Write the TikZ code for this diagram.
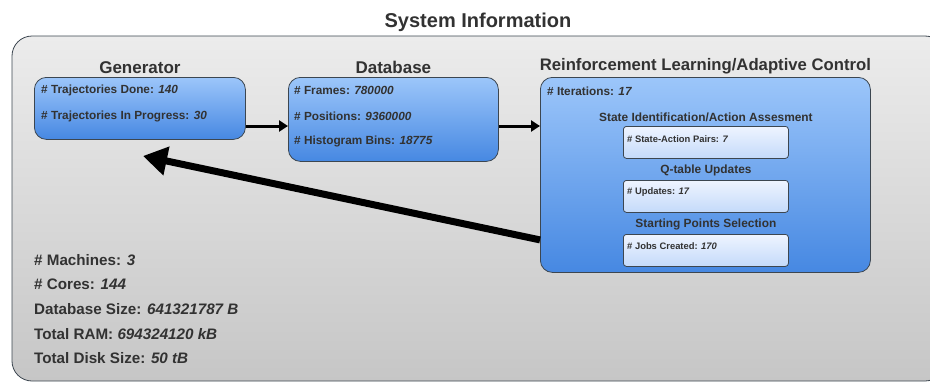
\documentclass[tikz,border=0pt]{standalone}
\usepackage{fontspec}
\setmainfont{Liberation Sans}
\usetikzlibrary{positioning}
\usetikzlibrary{arrows.meta}

\definecolor{txtgray}{RGB}{50,50,50}
\definecolor{edgegray}{RGB}{60,70,80}
\definecolor{bluetop}{RGB}{156,198,250}
\definecolor{bluebot}{RGB}{70,136,226}
\definecolor{subtop}{RGB}{238,244,255}
\definecolor{subbot}{RGB}{196,218,250}
\definecolor{bgtop}{RGB}{236,236,236}
\definecolor{bgbot}{RGB}{198,198,198}

\newcommand{\val}[1]{\textit{#1}}

\begin{document}
\begin{tikzpicture}[
        x = 1pt, y = -1pt,
        panel/.style = {
            draw = edgegray,
            line width = 0.8pt,
            rounded corners = 12pt,
            top color = bluetop,
            bottom color = bluebot,
            anchor = north west,
            inner sep = 0pt
        },
        subpanel/.style = {
            draw = edgegray,
            line width = 0.8pt,
            rounded corners = 3pt,
            top color = subtop,
            bottom color = subbot,
            anchor = north west,
            minimum width = 165pt,
            minimum height = 32pt,
            inner sep = 0pt
        },
        heading/.style = {
            font = \fontsize{#1}{19}\selectfont\bfseries,
            text = txtgray,
            inner sep = 0pt
        },
        heading/.default = 17,
        subheading/.style = {
            font = \fontsize{11.9}{14}\selectfont\bfseries,
            text = txtgray,
            inner sep = 0pt
        },
        info/.style = {
            font = \fontsize{#1}{14}\selectfont\bfseries,
            text = txtgray,
            anchor = west,
            inner sep = 0pt
        },
        info/.default = 11.8,
        flow/.style = {
            -{Triangle[length=9pt, width=11pt]},
            line width = 3pt
        }
        ]
%
        \useasboundingbox (0,0) rectangle (930,383);
        \draw[draw=edgegray, line width=0.8pt, rounded corners=20pt,
              top color=bgtop, bottom color=bgbot] (12,36) rectangle (945,381);
        \node[font=\fontsize{20}{22}\selectfont\bfseries, text=txtgray] (title) at (478,22) {System Information};
%
        \node[panel, minimum width=211pt, minimum height=62pt] (gen) at (34,77) {};
        \node[panel, minimum width=210pt, minimum height=84pt] (db) at (288,77) {};
        \node[panel, minimum width=330pt, minimum height=195pt] (rl) at (540,77) {};
%
        \node[heading, above=3pt of gen] (genhead) {Generator};
        \node[heading, above=3pt of db] (dbhead) {Database};
        \node[heading=16.7, above=3pt of rl] (rlhead) {Reinforcement Learning/Adaptive Control};
%
        \node[info] (done) at (41,90) {\# Trajectories Done: \val{140}};
        \node[info] (progress) at (41,116) {\# Trajectories In Progress: \val{30}};
%
        \node[info] (frames) at (294,90) {\# Frames: \val{780000}};
        \node[info] (positions) at (294,116) {\# Positions: \val{9360000}};
        \node[info] (bins) at (294,141) {\# Histogram Bins: \val{18775}};
%
        \node[info] (iter) at (547,91) {\# Iterations: \val{17}};
%
        \node[subpanel] (state) at (623,126) {};
        \node[subpanel] (qtable) at (623,180) {};
        \node[subpanel] (start) at (623,234) {};
%
        \node[subheading, above=4pt of state] (statehead) {State Identification/Action Assesment};
        \node[subheading, above=4pt of qtable] (qhead) {Q-table Updates};
        \node[subheading, above=4pt of start] (starthead) {Starting Points Selection};
%
        \node[info=9.4] (pairs) at (627,139) {\# State-Action Pairs: \val{7}};
        \node[info=9.4] (updates) at (627,192) {\# Updates: \val{17}};
        \node[info=9.4] (jobs) at (627,246) {\# Jobs Created: \val{170}};
%
        \node[info=15.2] (machines) at (34,260) {\# Machines: \val{3}};
        \node[info=15.2] (cores) at (34,284) {\# Cores: \val{144}};
        \node[info=15.2] (dbsize) at (34,309) {Database Size: \val{641321787 B}};
        \node[info=15.2] (ram) at (34,334) {Total RAM: \val{694324120 kB}};
        \node[info=15.2] (disk) at (34,358) {Total Disk Size: \val{50 tB}};
%
        \coordinate (row) at (0,126);
        \coordinate (back) at (143,156);
%
        \draw[flow] (gen.east |- row) -- (db.west |- row);
        \draw[flow] (db.east |- row) -- (rl.west |- row);
        \draw[-{Triangle[length=24pt, width=28pt]}, line width=7pt] ([yshift=-65pt]rl.west) -- (back);
%
    \end{tikzpicture}
\end{document}
